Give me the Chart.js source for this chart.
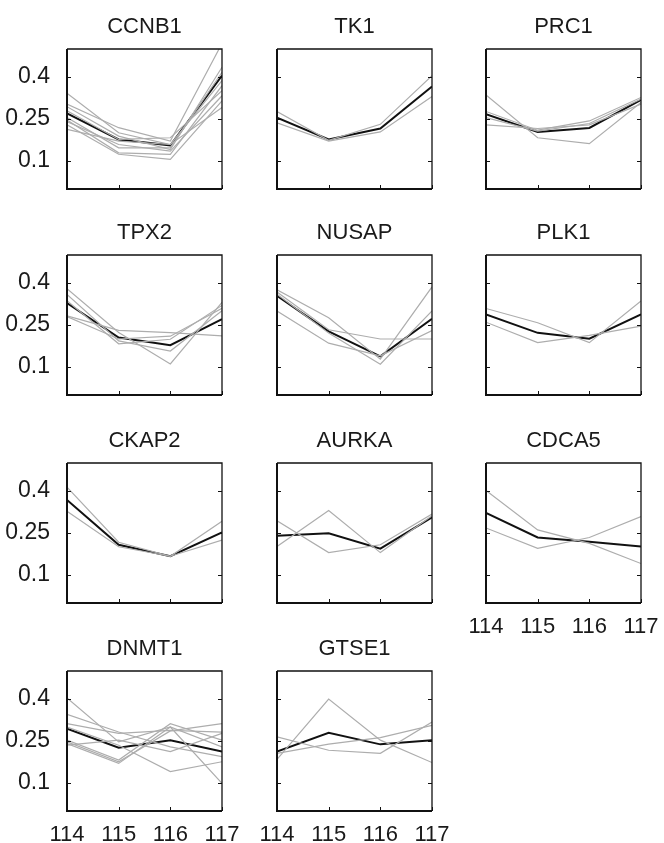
<!DOCTYPE html>
<html lang="en">
<head>
<meta charset="UTF-8">
<title>Expression profiles</title>
<script src="https://cdn.jsdelivr.net/npm/chart.js@4.4.0/dist/chart.umd.min.js"></script>
<style>
    body { margin: 0; background: #fff; }
    #wrap { position: relative; width: 664px; height: 843px; overflow: hidden; }
    .panel { position: absolute; }
</style>
</head>
<body>
<div id="wrap"></div>
<script>
    const genes = ['CCNB1', 'TK1', 'PRC1', 'TPX2', 'NUSAP', 'PLK1', 'CKAP2', 'AURKA', 'CDCA5', 'DNMT1', 'GTSE1'];
    const timepoints = [114, 115, 116, 117];
    const yTicks = [0.1, 0.25, 0.4];

    // black line per gene
    const meanProfiles = [
        [0.27, 0.177, 0.156, 0.405],
        [0.255, 0.177, 0.216, 0.366],
        [0.267, 0.204, 0.218, 0.318],
        [0.328, 0.205, 0.178, 0.271],
        [0.354, 0.227, 0.138, 0.272],
        [0.288, 0.222, 0.201, 0.288],
        [0.368, 0.208, 0.167, 0.252],
        [0.24, 0.249, 0.194, 0.306],
        [0.322, 0.234, 0.219, 0.202],
        [0.294, 0.226, 0.253, 0.212],
        [0.212, 0.279, 0.238, 0.253]
    ];

    // grey lines per gene
    const sampleProfiles = [
        [[0.342, 0.201, 0.159, 0.387], [0.303, 0.219, 0.171, 0.52], [0.294, 0.189, 0.141, 0.435],
         [0.279, 0.177, 0.183, 0.351], [0.255, 0.147, 0.147, 0.417], [0.246, 0.129, 0.124, 0.369],
         [0.241, 0.159, 0.135, 0.333], [0.229, 0.124, 0.106, 0.315], [0.213, 0.171, 0.159, 0.291]],
        [[0.277, 0.174, 0.231, 0.405], [0.236, 0.171, 0.204, 0.33]],
        [[0.336, 0.183, 0.162, 0.309], [0.277, 0.21, 0.243, 0.327], [0.255, 0.207, 0.234, 0.321], [0.229, 0.216, 0.229, 0.303]],
        [[0.38, 0.223, 0.111, 0.331], [0.359, 0.193, 0.157, 0.301], [0.337, 0.183, 0.199, 0.32],
         [0.283, 0.231, 0.223, 0.211], [0.28, 0.2, 0.21, 0.31]],
        [[0.376, 0.276, 0.128, 0.386], [0.368, 0.233, 0.2, 0.2], [0.36, 0.221, 0.11, 0.3], [0.3, 0.185, 0.14, 0.23]],
        [[0.309, 0.258, 0.187, 0.336], [0.26, 0.187, 0.213, 0.246]],
        [[0.414, 0.217, 0.167, 0.292], [0.328, 0.201, 0.167, 0.225]],
        [[0.294, 0.18, 0.208, 0.318], [0.202, 0.33, 0.18, 0.312]],
        [[0.402, 0.261, 0.213, 0.141], [0.268, 0.195, 0.234, 0.309]],
        [[0.404, 0.247, 0.3, 0.099], [0.345, 0.282, 0.229, 0.194], [0.312, 0.277, 0.288, 0.282],
         [0.3, 0.235, 0.141, 0.176], [0.253, 0.182, 0.312, 0.253], [0.247, 0.176, 0.286, 0.312],
         [0.241, 0.17, 0.3, 0.229], [0.235, 0.253, 0.212, 0.277]],
        [[0.184, 0.4, 0.253, 0.173], [0.265, 0.217, 0.206, 0.318], [0.206, 0.239, 0.262, 0.306]]
    ];

    const colLeft = [67, 277, 486];
    const rowTop = [49, 255, 463, 671];
    const bottomPanels = ['CDCA5', 'DNMT1', 'GTSE1'];

    const fontFamily = '"Liberation Sans", Arial, Helvetica, sans-serif';

    // box + inward tick marks
    const framePlugin = {
        id: 'frame',
        afterDatasetsDraw(chart) {
            const { ctx, chartArea: a, scales: { x, y } } = chart;
            ctx.save();
            ctx.strokeStyle = '#111';
            ctx.lineWidth = 1;
            ctx.beginPath();
            yTicks.forEach(v => {
                const py = Math.round(y.getPixelForValue(v)) + 0.5;
                ctx.moveTo(a.left, py); ctx.lineTo(a.left + 4, py);
                ctx.moveTo(a.right, py); ctx.lineTo(a.right - 4, py);
            });
            timepoints.forEach(v => {
                const px = Math.round(x.getPixelForValue(v)) + 0.5;
                ctx.moveTo(px, a.bottom); ctx.lineTo(px, a.bottom - 4);
            });
            ctx.stroke();
            ctx.lineWidth = 1.3;
            ctx.beginPath();
            ctx.moveTo(a.left, a.top); ctx.lineTo(a.right, a.top); ctx.lineTo(a.right, a.bottom);
            ctx.stroke();
            ctx.lineWidth = 2;
            ctx.beginPath();
            ctx.moveTo(a.left, a.top); ctx.lineTo(a.left, a.bottom); ctx.lineTo(a.right, a.bottom);
            ctx.stroke();
            ctx.restore();
        }
    };

    const wrap = document.getElementById('wrap');

    genes.forEach((gene, i) => {
        const col = i % 3, row = Math.floor(i / 3);
        const div = document.createElement('div');
        div.className = 'panel';
        div.style.left = (colLeft[col] - 67) + 'px';
        div.style.top = (rowTop[row] - 49) + 'px';
        const canvas = document.createElement('canvas');
        canvas.width = 245;
        canvas.height = 221;
        canvas.style.width = '245px';
        canvas.style.height = '221px';
        div.appendChild(canvas);
        wrap.appendChild(div);

        const datasets = sampleProfiles[i].map(p => ({
            data: timepoints.map((t, k) => ({ x: t, y: p[k] })),
            borderColor: '#adadad',
            borderWidth: 1.2
        }));
        datasets.push({
            data: timepoints.map((t, k) => ({ x: t, y: meanProfiles[i][k] })),
            borderColor: '#111',
            borderWidth: 2
        });

        new Chart(canvas, {
            type: 'line',
            data: { datasets },
            options: {
                responsive: false,
                devicePixelRatio: 1,
                animation: false,
                events: [],
                elements: { point: { radius: 0 }, line: { tension: 0 } },
                layout: { padding: { left: 0, right: 23, top: 0, bottom: 0 } },
                plugins: {
                    legend: { display: false },
                    tooltip: { enabled: false },
                    title: {
                        display: true,
                        text: gene,
                        fullSize: false,
                        color: '#1a1a1a',
                        font: { family: fontFamily, size: 22, weight: 'normal' },
                        padding: { top: 14, bottom: 8.6 }
                    }
                },
                scales: {
                    x: {
                        type: 'linear',
                        min: 114,
                        max: 117,
                        grid: { display: false },
                        border: { display: false },
                        afterBuildTicks: s => { s.ticks = timepoints.map(v => ({ value: v })); },
                        afterFit: s => { s.height = 32; },
                        ticks: {
                            display: bottomPanels.includes(gene),
                            color: '#1a1a1a',
                            padding: 3,
                            maxRotation: 0,
                            font: { family: fontFamily, size: 22 },
                            callback: v => String(v)
                        }
                    },
                    y: {
                        min: 0,
                        max: 0.5,
                        grid: { display: false },
                        border: { display: false },
                        afterBuildTicks: s => { s.ticks = yTicks.map(v => ({ value: v })); },
                        afterFit: s => { s.width = 67; },
                        ticks: {
                            display: col === 0,
                            color: '#1a1a1a',
                            padding: 9,
                            font: { family: fontFamily, size: 23 },
                            callback: v => String(v)
                        }
                    }
                }
            },
            plugins: [framePlugin]
        });
    });
</script>
</body>
</html>
